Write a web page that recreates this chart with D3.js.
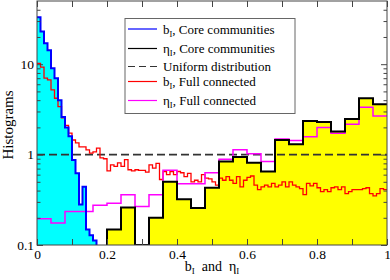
<!DOCTYPE html>
<html>
<head>
<meta charset="utf-8">
<script src="https://cdn.jsdelivr.net/npm/d3@7"></script>
<style>
  body { margin: 0; background: #fff; }
  text { font-family: "Liberation Serif", "Times New Roman", serif; }
</style>
</head>
<body>
<div id="grafico"></div>
<script>
// histogramas finos (ancho 0.01) y gruesos (ancho 0.04)
var anchoFino = 0.01;
var anchoGrueso = 0.04;

var bCore = [33, 23, 17, 14.3, 9.0, 7.0, 4.0, 2.6, 2.0, 1.6, 0.87, 0.62, 0.28, 0.44, 0.148, 0.128, 0.112];

var bFull = [10.2, 9.3, 7.0, 6.7, 5.2, 4.2, 3.4, 2.55, 2.1, 1.73,
	1.45, 1.35, 1.22, 1.22, 1.13, 1.04, 1.07, 1.18, 0.92, 0.9,
	0.66, 0.77, 0.74, 0.81, 0.74, 0.88, 0.68, 0.66, 0.68, 0.67,
	0.67, 0.64, 0.77, 0.71, 0.8, 0.53, 0.65, 0.6, 0.65, 0.6,
	0.65, 0.63, 0.57, 0.62, 0.5, 0.52, 0.5, 0.6, 0.55, 0.54,
	0.5, 0.46, 0.55, 0.52, 0.57, 0.52, 0.48, 0.57, 0.44, 0.52,
	0.56, 0.58, 0.46, 0.41, 0.44, 0.46, 0.44, 0.48, 0.44, 0.46,
	0.5, 0.44, 0.5, 0.46, 0.44, 0.42, 0.36, 0.48, 0.45, 0.48,
	0.43, 0.39, 0.41, 0.39, 0.43, 0.44, 0.41, 0.44, 0.37, 0.39,
	0.41, 0.41, 0.41, 0.42, 0.43, 0.37, 0.35, 0.37, 0.42, 0.41];

var etaCore = [0, 0, 0, 0, 0, 0.148, 0.26, 0, 0.2, 0.5,
	0.32, 0.256, 0.43, 0.84, 0.94, 0.81, 0.65, 1.45, 1.3, 2.35,
	2.3, 1.8, 2.48, 4.2, 3.6];

var etaFull = [0.195, 0.175, 0.235, 0.235, 0.275, 0.29, 0.36, 0.267, 0.36, 0.67,
	0.475, 0.475, 0.63, 0.89, 1.13, 1.02, 0.84, 1.49, 1.43, 1.58,
	1.99, 1.72, 2.16, 3.34, 2.67];

var uniforme = 1;

var xTicks = [0, 0.1, 0.2, 0.3, 0.4, 0.5, 0.6, 0.7, 0.8, 0.9, 1];
var yMayores = [0.1, 1, 10];
var yMenores = [0.2, 0.3, 0.4, 0.5, 0.6, 0.7, 0.8, 0.9, 2, 3, 4, 5, 6, 7, 8, 9, 20, 30, 40];

var leyenda = [
	{ base: "b", resto: ", Core communities", color: "#0000ff", dash: null, ancho: 1.2 },
	{ base: "\u03b7", resto: ", Core communities", color: "#000", dash: null, ancho: 1.2 },
	{ base: "Uniform distribution", resto: "", color: "#333", dash: "7,4", ancho: 1.2, sinSub: true },
	{ base: "b", resto: ", Full connected", color: "#ff0000", dash: null, ancho: 1.2 },
	{ base: "\u03b7", resto: ", Full connected", color: "#ff00ff", dash: null, ancho: 1.2 }
];
var filasLeyenda = [29, 48.5, 66.5, 81.5, 100.5];

var w = 390;
var h = 280;
var izq = 37, der = 387, arriba = 1, abajo = 245;

var x = d3.scaleLinear().domain([0, 1]).range([izq, der]);
var y = d3.scaleLog().domain([0.1, 50]).range([abajo, arriba]);

var svg = d3.select('#grafico')
	.append('svg')
	.attr("width", w)
	.attr("height", h);

svg.append("clipPath").attr("id", "recorte")
	.append("rect")
	.attr("x", izq).attr("y", arriba)
	.attr("width", der - izq).attr("height", abajo - arriba);

// puntos de escalon: [inicio de bin, valor], mas el borde final
function escalones(vals, ancho) {
	var pts = vals.map(function (v, i) { return [i * ancho, Math.max(v, 0.1)]; });
	pts.push([vals.length * ancho, Math.max(vals[vals.length - 1], 0.1)]);
	return pts;
}

var linea = d3.line()
	.x(function (d) { return x(d[0]); })
	.y(function (d) { return y(d[1]); })
	.curve(d3.curveStepAfter);

var area = d3.area()
	.x(function (d) { return x(d[0]); })
	.y0(abajo)
	.y1(function (d) { return y(d[1]); })
	.curve(d3.curveStepAfter);

var ptsBCore = escalones(bCore, anchoFino);
ptsBCore.push([bCore.length * anchoFino, 0.1]);
var ptsBFull = escalones(bFull, anchoFino);
var ptsEtaCore = escalones(etaCore, anchoGrueso).filter(function (d) { return d[0] >= 0.2; });
ptsEtaCore.unshift([0.2, 0.1]);
var ptsEtaFull = escalones(etaFull, anchoGrueso);

var plot = svg.append("g").attr("clip-path", "url(#recorte)");

plot.append("path").attr("d", area(ptsEtaCore)).attr("fill", "#ffff00");
plot.append("path").attr("d", area(ptsBCore)).attr("fill", "#00ffff");

plot.append("line")
	.attr("x1", x(0)).attr("x2", x(1))
	.attr("y1", y(uniforme)).attr("y2", y(uniforme))
	.attr("stroke", "#333").attr("stroke-width", 1.6)
	.attr("stroke-dasharray", "8,4");

plot.append("path").attr("d", linea(ptsBFull))
	.attr("fill", "none").attr("stroke", "#ff0000").attr("stroke-width", 1.3);
plot.append("path").attr("d", linea(ptsEtaFull))
	.attr("fill", "none").attr("stroke", "#ff00ff").attr("stroke-width", 1.5);
plot.append("path").attr("d", linea(ptsEtaCore))
	.attr("fill", "none").attr("stroke", "#000").attr("stroke-width", 2);
plot.append("path").attr("d", linea(ptsBCore))
	.attr("fill", "none").attr("stroke", "#0000ff").attr("stroke-width", 2);

// marco
svg.append("rect")
	.attr("x", izq).attr("y", arriba)
	.attr("width", der - izq).attr("height", abajo - arriba)
	.attr("fill", "none").attr("stroke", "#444").attr("stroke-width", 1);

function estiloEje(g) {
	g.select(".domain").remove();
	g.selectAll(".tick line").attr("stroke", "#444");
	g.selectAll("text").attr("font-size", 13.5).attr("fill", "#000")
		.attr("font-family", "Liberation Serif, Times New Roman, serif");
}

var fmtX = function (d) {
	var k = Math.round(d * 10);
	if (k % 2 !== 0) return "";
	if (k === 0) return "0";
	if (k === 10) return "1";
	return d3.format(".1f")(d);
};

svg.append("g").attr("transform", "translate(0," + abajo + ")")
	.call(d3.axisBottom(x).tickValues(xTicks).tickSize(-6).tickPadding(4).tickFormat(fmtX))
	.call(estiloEje);
svg.append("g").attr("transform", "translate(0," + arriba + ")")
	.call(d3.axisTop(x).tickValues(xTicks).tickSize(-6).tickFormat(""))
	.call(estiloEje);

svg.append("g").attr("transform", "translate(" + izq + ",0)")
	.call(d3.axisLeft(y).tickValues(yMayores).tickSize(-6).tickPadding(3).tickFormat(function (d) { return String(d); }))
	.call(estiloEje);
svg.append("g").attr("transform", "translate(" + izq + ",0)")
	.call(d3.axisLeft(y).tickValues(yMenores).tickSize(-3.5).tickFormat(""))
	.call(estiloEje);
svg.append("g").attr("transform", "translate(" + der + ",0)")
	.call(d3.axisRight(y).tickValues(yMayores).tickSize(-6).tickFormat(""))
	.call(estiloEje);
svg.append("g").attr("transform", "translate(" + der + ",0)")
	.call(d3.axisRight(y).tickValues(yMenores).tickSize(-3.5).tickFormat(""))
	.call(estiloEje);

// titulos
var tx = svg.append("text")
	.attr("x", x(0.5)).attr("y", 271)
	.attr("text-anchor", "middle")
	.attr("font-size", 14);
tx.append("tspan").text("b");
tx.append("tspan").text("I").attr("font-size", 9).attr("dy", 3);
tx.append("tspan").text("and").attr("dx", 7).attr("dy", -3);
tx.append("tspan").text("\u03b7").attr("dx", 7);
tx.append("tspan").text("I").attr("font-size", 9).attr("dy", 3);

svg.append("text")
	.attr("transform", "translate(13," + 125 + ") rotate(-90)")
	.attr("text-anchor", "middle")
	.attr("font-size", 15)
	.text("Histograms");

// leyenda
svg.append("rect")
	.attr("x", 125).attr("y", 18.5)
	.attr("width", 170).attr("height", 95)
	.attr("fill", "#fff").attr("stroke", "#666").attr("stroke-width", 1);

leyenda.forEach(function (d, i) {
	var yy = filasLeyenda[i];
	svg.append("line")
		.attr("x1", 128).attr("x2", 157)
		.attr("y1", yy).attr("y2", yy)
		.attr("stroke", d.color).attr("stroke-width", d.ancho)
		.attr("stroke-dasharray", d.dash);
	var t = svg.append("text")
		.attr("x", 163).attr("y", yy + 4.5)
		.attr("font-size", 13);
	t.append("tspan").text(d.base);
	if (!d.sinSub) {
		t.append("tspan").text("I").attr("font-size", 8.5).attr("dy", 3);
		t.append("tspan").text(d.resto).attr("dy", -3);
	}
});
</script>
</body>
</html>
